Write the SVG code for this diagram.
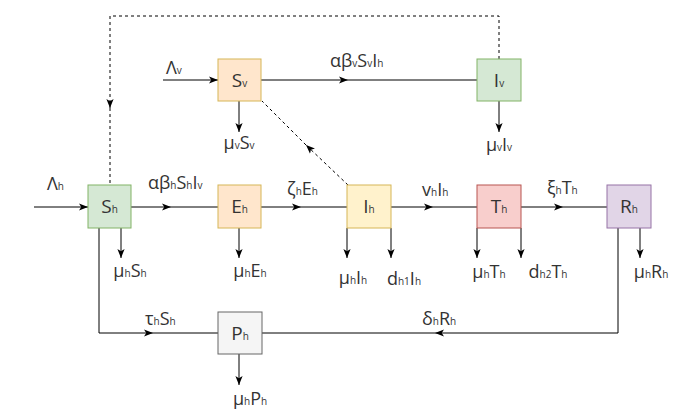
<svg xmlns="http://www.w3.org/2000/svg" width="699" height="416" viewBox="0 0 699 416">
<defs>
<marker id="ah" markerUnits="userSpaceOnUse" markerWidth="9" markerHeight="9" viewBox="0 0 10 10" refX="10" refY="5" orient="auto">
<path d="M0,1 L10,5 L0,9 L2.5,5 z" fill="#000"/>
</marker>
<style>
.ln{stroke:#000;stroke-width:1;fill:none}
.ds{stroke:#000;stroke-width:1;fill:none;stroke-dasharray:3 3}
.t{font-family:"Open Sans","Liberation Sans",sans-serif;font-size:18px;fill:#333}
.b{font-family:"Open Sans","Liberation Sans",sans-serif;font-size:19px;fill:#333;text-anchor:middle}
.s{font-size:10px}
.green{fill:#d5e8d4;stroke:#82b366}
.orange{fill:#ffe6cc;stroke:#d6b656}
.yellow{fill:#fff2cc;stroke:#d6b656}
.red{fill:#f8cecc;stroke:#b85450}
.purple{fill:#e1d5e7;stroke:#9673a6}
.gray{fill:#f5f5f5;stroke:#666666}
</style>
</defs>
<rect width="699" height="416" fill="#fff"/>
<g id="connectors">
<line class="ln" x1="163" y1="80" x2="218" y2="80" marker-end="url(#ah)"/>
<line class="ln" x1="261" y1="80" x2="348" y2="80" marker-end="url(#ah)"/>
<line class="ln" x1="348" y1="80" x2="477" y2="80"/>
<line class="ln" x1="239" y1="101" x2="239" y2="132" marker-end="url(#ah)"/>
<line class="ln" x1="499" y1="101" x2="499" y2="132" marker-end="url(#ah)"/>
<path class="ds" d="M499,59 V16 H110 V108" marker-end="url(#ah)"/>
<line class="ds" x1="110" y1="108" x2="110" y2="185"/>
<line class="ds" x1="348" y1="185" x2="306" y2="145" marker-end="url(#ah)"/>
<line class="ds" x1="306" y1="145" x2="262" y2="101"/>
<line class="ln" x1="34" y1="207" x2="88" y2="207" marker-end="url(#ah)"/>
<line class="ln" x1="131" y1="207" x2="171" y2="207" marker-end="url(#ah)"/>
<line class="ln" x1="171" y1="207" x2="218" y2="207"/>
<line class="ln" x1="261" y1="207" x2="301" y2="207" marker-end="url(#ah)"/>
<line class="ln" x1="301" y1="207" x2="347" y2="207"/>
<line class="ln" x1="391" y1="207" x2="433" y2="207" marker-end="url(#ah)"/>
<line class="ln" x1="433" y1="207" x2="477" y2="207"/>
<line class="ln" x1="521" y1="207" x2="563" y2="207" marker-end="url(#ah)"/>
<line class="ln" x1="563" y1="207" x2="607" y2="207"/>
<line class="ln" x1="121" y1="228" x2="121" y2="258" marker-end="url(#ah)"/>
<line class="ln" x1="239" y1="228" x2="239" y2="258" marker-end="url(#ah)"/>
<line class="ln" x1="347" y1="228" x2="347" y2="258" marker-end="url(#ah)"/>
<line class="ln" x1="391" y1="228" x2="391" y2="258" marker-end="url(#ah)"/>
<line class="ln" x1="477" y1="228" x2="477" y2="258" marker-end="url(#ah)"/>
<line class="ln" x1="521" y1="228" x2="521" y2="258" marker-end="url(#ah)"/>
<line class="ln" x1="640" y1="228" x2="640" y2="258" marker-end="url(#ah)"/>
<path class="ln" d="M99,228 V333 H153" marker-end="url(#ah)"/>
<line class="ln" x1="153" y1="333" x2="218" y2="333"/>
<path class="ln" d="M618,228 V333 H435" marker-end="url(#ah)"/>
<line class="ln" x1="435" y1="333" x2="262" y2="333"/>
<line class="ln" x1="239" y1="354" x2="239" y2="385" marker-end="url(#ah)"/>
</g>
<g id="labels">
<text class="t" x="166" y="74">Λ<tspan class="s">v</tspan></text>
<text class="t" x="330" y="67">αβ<tspan class="s">v</tspan>S<tspan class="s">v</tspan>I<tspan class="s">h</tspan></text>
<text class="t" x="239" y="149" text-anchor="middle">μ<tspan class="s">v</tspan>S<tspan class="s">v</tspan></text>
<text class="t" x="499" y="151" text-anchor="middle">μ<tspan class="s">v</tspan>I<tspan class="s">v</tspan></text>
<text class="t" x="47" y="190">Λ<tspan class="s">h</tspan></text>
<text class="t" x="148" y="189">αβ<tspan class="s">h</tspan>S<tspan class="s">h</tspan>I<tspan class="s">v</tspan></text>
<text class="t" x="287" y="195">ζ<tspan class="s">h</tspan>E<tspan class="s">h</tspan></text>
<text class="t" x="422" y="196">v<tspan class="s">h</tspan>I<tspan class="s">h</tspan></text>
<text class="t" x="547" y="194">ξ<tspan class="s">h</tspan>T<tspan class="s">h</tspan></text>
<text class="t" x="130" y="277" text-anchor="middle">μ<tspan class="s">h</tspan>S<tspan class="s">h</tspan></text>
<text class="t" x="250" y="277" text-anchor="middle">μ<tspan class="s">h</tspan>E<tspan class="s">h</tspan></text>
<text class="t" x="353" y="284" text-anchor="middle">μ<tspan class="s">h</tspan>I<tspan class="s">h</tspan></text>
<text class="t" x="404" y="285" text-anchor="middle">d<tspan class="s">h1</tspan>I<tspan class="s">h</tspan></text>
<text class="t" x="489" y="278" text-anchor="middle">μ<tspan class="s">h</tspan>T<tspan class="s">h</tspan></text>
<text class="t" x="548" y="278" text-anchor="middle">d<tspan class="s">h2</tspan>T<tspan class="s">h</tspan></text>
<text class="t" x="651" y="278" text-anchor="middle">μ<tspan class="s">h</tspan>R<tspan class="s">h</tspan></text>
<text class="t" x="145" y="325">τ<tspan class="s">h</tspan>S<tspan class="s">h</tspan></text>
<text class="t" x="422" y="325">δ<tspan class="s">h</tspan>R<tspan class="s">h</tspan></text>
<text class="t" x="250" y="405" text-anchor="middle">μ<tspan class="s">h</tspan>P<tspan class="s">h</tspan></text>
</g>
<g id="Sv"><rect class="orange" x="218" y="59" width="43" height="42"/><text class="b" x="239.5" y="87">S<tspan class="s">v</tspan></text></g>
<g id="Iv"><rect class="green" x="477" y="59" width="44" height="42"/><text class="b" x="499" y="87">I<tspan class="s">v</tspan></text></g>
<g id="Sh"><rect class="green" x="88" y="185" width="43" height="43"/><text class="b" x="109.5" y="213">S<tspan class="s">h</tspan></text></g>
<g id="Eh"><rect class="orange" x="218" y="185" width="43" height="43"/><text class="b" x="239.5" y="213">E<tspan class="s">h</tspan></text></g>
<g id="Ih"><rect class="yellow" x="347" y="185" width="44" height="43"/><text class="b" x="369" y="213">I<tspan class="s">h</tspan></text></g>
<g id="Th"><rect class="red" x="477" y="185" width="44" height="43"/><text class="b" x="499" y="213">T<tspan class="s">h</tspan></text></g>
<g id="Rh"><rect class="purple" x="607" y="185" width="44" height="43"/><text class="b" x="629" y="213">R<tspan class="s">h</tspan></text></g>
<g id="Ph"><rect class="gray" x="218" y="312" width="44" height="42"/><text class="b" x="240" y="340">P<tspan class="s">h</tspan></text></g>
</svg>
